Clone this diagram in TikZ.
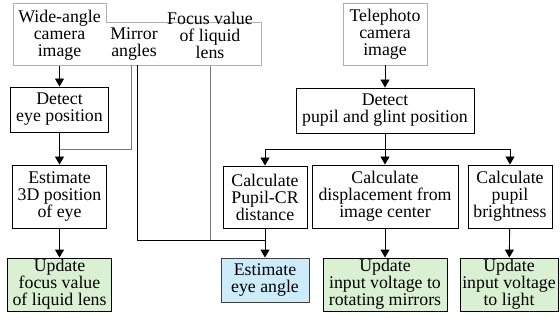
\documentclass[tikz,border=0pt]{standalone}
\usepackage{fontspec}
\setmainfont{Liberation Serif}
\usetikzlibrary{arrows.meta}
\definecolor{boxgray}{RGB}{175,175,175}
\definecolor{linegray}{RGB}{120,120,120}
\definecolor{fillgreen}{RGB}{218,240,210}
\definecolor{fillblue}{RGB}{205,236,250}
\tikzset{
  txt/.style={align=center, inner sep=0pt, font=\fontsize{17.8}{17}\selectfont},
  procbox/.style={txt, draw=black, line width=0.9pt},
  inbox/.style={txt, draw=boxgray, line width=0.9pt},
  greenbox/.style={procbox, fill=fillgreen},
  bluebox/.style={procbox, draw=black!75, fill=fillblue},
  bline/.style={draw=black, line width=0.9pt},
  gline/.style={draw=linegray, line width=0.9pt},
  arr/.style={bline, -{Triangle[length=8pt,width=9pt]}},
}
\begin{document}
\begin{tikzpicture}[x=1pt,y=-1pt]
\useasboundingbox (0,0) rectangle (560,326);
% top-left input outline
\draw[draw=boxgray, line width=0.9pt] (13,3) -- (106,3) -- (106,22) -- (261,22) -- (261,65) -- (13,65) -- cycle;
\node[txt, minimum width=93pt, minimum height=62pt] (wide) at (59.5,35) {Wide-angle\\camera\\image};
\node[txt] (mirror) at (134,44) {Mirror\\angles};
\node[txt] (focus) at (210,35) {Focus value\\of liquid\\lens};
\coordinate (m1) at (131,65);
\coordinate (m2) at (137,65);
% left column
\node[procbox, minimum width=98pt, minimum height=45pt] (deteye) at (59.5,109.5) {Detect\\eye position};
\node[procbox, minimum width=94pt, minimum height=63pt] (est3d) at (59.5,196.5) {Estimate\\3D position\\of eye};
\node[greenbox, minimum width=104pt, minimum height=53pt] (updfocus) at (59.5,284.5) {Update\\focus value\\of liquid lens};
% right part
\node[inbox, minimum width=84pt, minimum height=62pt] (tele) at (385,34) {Telephoto\\camera\\image};
\node[procbox, minimum width=178pt, minimum height=45pt] (detpupil) at (385,110.5) {Detect\\pupil and glint position};
\node[procbox, minimum width=84pt, minimum height=62pt] (calccr) at (265,197) {Calculate\\Pupil-CR\\distance};
\node[procbox, minimum width=146pt, minimum height=63pt] (calcdisp) at (385,196.5) {Calculate\\displacement from\\image center};
\node[procbox, minimum width=84pt, minimum height=63pt] (calcbright) at (510,196.5) {Calculate\\pupil\\brightness};
\node[bluebox, minimum width=88pt, minimum height=44pt] (estangle) at (265,280) {Estimate\\eye angle};
\node[greenbox, minimum width=124pt, minimum height=53pt] (updmirror) at (385,284.5) {Update\\input voltage to\\rotating mirrors};
\node[greenbox, minimum width=98pt, minimum height=53pt] (updlight) at (509,284.5) {Update\\input voltage\\to light};
% connectors left
\coordinate (j1) at (59.5,149);
\coordinate (j2) at (265,240);
\coordinate (bus) at (385,149);
\draw[arr] (wide) -- (deteye);
\draw[gline] (m1) |- (j1);
\draw[arr] (deteye) -- (est3d);
\draw[arr] (est3d) -- (updfocus);
\draw[bline] (m2) |- (j2);
\draw[gline] (focus |- wide.south) -- (focus |- j2);
\draw[arr] (calccr) -- (estangle);
% connectors right
\draw[arr] (tele) -- (detpupil);
\draw[arr] (detpupil) -- (calcdisp);
\draw[arr] (bus) -| (calccr);
\draw[arr] (bus) -| (calcbright);
\draw[arr] (calcdisp) -- (updmirror);
\draw[arr] (calcbright) -- (updlight);
\end{tikzpicture}
\end{document}
